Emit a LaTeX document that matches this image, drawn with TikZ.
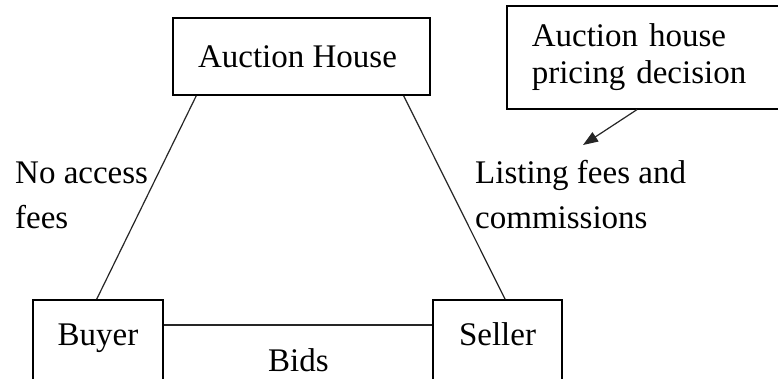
\documentclass[tikz,border=0pt]{standalone}
\usepackage{fontspec}
\setmainfont{Liberation Serif}
\usetikzlibrary{arrows.meta,calc}
\begin{document}
\begin{tikzpicture}[x=1pt,y=-1pt,
  box/.style={draw=black, line width=1.6pt, inner sep=0pt, font=\fontsize{33}{45}\selectfont},
  conn/.style={draw=black!85, line width=1.2pt},
  lbl/.style={inner sep=0pt, anchor=base west, align=left, font=\fontsize{33}{45}\selectfont}]
\useasboundingbox (0,0) rectangle (778,378);
\clip (0,0) rectangle (778,378);
\fill[white] (0,0) rectangle (778,378);
\node[box, minimum width=257pt, minimum height=77pt] (house) at (301.5,56.5) {\hspace*{-8pt}Auction House};
\node[box, minimum width=130pt, minimum height=83pt, text height=23pt, text depth=16pt] (buyer) at (98,341.5) {Buyer};
\node[box, minimum width=129pt, minimum height=83pt, text height=23pt, text depth=16pt] (seller) at (497.5,341.5) {Seller};
\node[box, anchor=north west, minimum width=300pt, minimum height=103pt, text width=250pt, align=left, font=\fontsize{33}{37}\selectfont] (pricing) at (506,5) {Auction house\\pricing decision};
\coordinate (tip) at (583,145);
\draw[conn, -{Triangle[length=15pt,width=11pt]}] ($(pricing.south west)+(131,0)$) -- (tip);
\draw[conn] ($(buyer.north west)!0.49!(buyer.north east)$) -- ($(house.south west)!0.093!(house.south east)$);
\draw[conn] ($(seller.north west)!0.558!(seller.north east)$) -- ($(house.south west)!0.895!(house.south east)$);
\draw[conn] ([yshift=16.5pt]buyer.east) -- ([yshift=16.5pt]seller.west);
\node[lbl] (noaccess) at (15,228) {No access\\fees};
\node[lbl] (listing) at (475,228) {Listing fees and\\commissions};
\node[lbl] (bids) at (268,371) {Bids};
\end{tikzpicture}
\end{document}
